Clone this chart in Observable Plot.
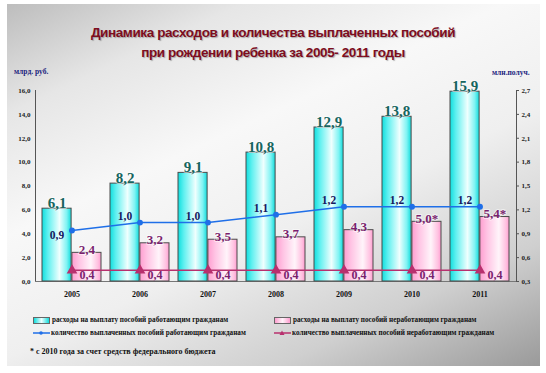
<!DOCTYPE html>
<html>
<head>
<meta charset="utf-8">
<script src="https://cdn.jsdelivr.net/npm/d3@7"></script>
<script src="https://cdn.jsdelivr.net/npm/@observablehq/plot@0.6"></script>
<style>
  html, body { margin: 0; padding: 0; background: #fff; }
  #wrap { position: relative; width: 546px; height: 373px; overflow: hidden; background: #fff; }
  #bg { position: absolute; left: 7px; top: 4px; width: 533px; height: 362px;
        background: linear-gradient(155deg, #bdbdbd 0%, #e6e6e6 18%, #f8f8f8 38%, #efefef 58%, #cfcfcf 80%, #9a9a9a 100%); }
  .title { position: absolute; left: 0; width: 546px; text-align: center; font-family: "Liberation Sans", Arial, sans-serif;
           font-weight: bold; font-size: 13.5px; letter-spacing: -0.4px; color: #7d0d1e; text-shadow: 1px 1px 1px rgba(90,90,90,0.45); }
  .axlab { position: absolute; font-family: "Liberation Serif", serif; font-weight: bold; font-size: 7.5px; color: #1a237e; }
  #chart { position: absolute; left: 0; top: 62px; }
  .leg { position: absolute; font-family: "Liberation Serif", serif; font-weight: bold; font-size: 7.2px; color: #111; white-space: nowrap; display: flex; align-items: center; }
  .sw { display: inline-block; width: 15px; height: 5px; border: 1px solid #666; margin-right: 2px; }
</style>
</head>
<body>
<div id="wrap">
  <div id="bg"></div>
  <div class="title" style="top:25px">Динамика расходов и количества выплаченных пособий</div>
  <div class="title" style="top:45px">при рождении ребенка за 2005- 2011 годы</div>
  <div class="axlab" id="leftLab" style="left:14px; top:67px"></div>
  <div class="axlab" id="rightLab" style="left:492px; top:68px"></div>
  <div id="chart"></div>
  <div id="legend"></div>
  <div class="leg" id="foot" style="left:30px; top:347px; font-size:8px"></div>
</div>
<script>
// ---- data ----
const years = ["2005", "2006", "2007", "2008", "2009", "2010", "2011"];
const workingSpend = [6.1, 8.2, 9.1, 10.8, 12.9, 13.8, 15.9];      // млрд. руб.
const nonWorkingSpend = [2.4, 3.2, 3.5, 3.7, 4.3, 5.0, 5.4];       // млрд. руб.
const workingCount = [0.94, 1.04, 1.04, 1.14, 1.24, 1.24, 1.24];   // млн.
const nonWorkingCount = [0.44, 0.44, 0.44, 0.44, 0.44, 0.44, 0.44];// млн.
const nonWorkingNotes = ["", "", "", "", "", "*", "*"];
const leftTicks = [0, 2, 4, 6, 8, 10, 12, 14, 16];
const rightTicks = [0.3, 0.6, 0.9, 1.2, 1.5, 1.8, 2.1, 2.4, 2.7];
const leftLabel = "млрд. руб.";
const rightLabel = "млн.получ.";
const seriesNames = [
  "расходы на выплату пособий работающим гражданам",
  "расходы на выплату пособий неработающим гражданам",
  "количество выплаченных пособий работающим гражданам",
  "количество выплаченных пособий неработающим гражданам"
];
const footnote = "* с 2010 года за счет средств федерального бюджета";

// ---- helpers ----
const ru = d3.formatLocale({decimal: ",", thousands: " ", grouping: [3], currency: ["", ""]});
const fmt1 = ru.format(".1f");
const rMin = rightTicks[0], rMax = rightTicks[rightTicks.length - 1];
const lMax = leftTicks[leftTicks.length - 1];
const toLeft = r => (r - rMin) / (rMax - rMin) * lMax;
const fromLeft = l => rMin + l / lMax * (rMax - rMin);

const rows = years.map((year, i) => ({
  year,
  work: workingSpend[i],
  non: nonWorkingSpend[i],
  workC: workingCount[i],
  nonC: nonWorkingCount[i],
  note: nonWorkingNotes[i]
}));

const W = 546, ML = 35, MR = 30;
const pInner = 0.13, pOuter = 0.065;
const step = (W - ML - MR) / (years.length - pInner + 2 * pOuter);
const half = step * (1 - pInner) / 2;
const q = half / 2;

const cBlue = "#1f6fe8", cRed = "#b8306e";
const serif = "Liberation Serif, serif";

const chart = Plot.plot({
  width: W, height: 248,
  marginLeft: ML, marginRight: MR, marginTop: 28, marginBottom: 29,
  style: {background: "transparent", overflow: "visible"},
  x: {type: "band", domain: years, paddingInner: pInner, paddingOuter: pOuter, axis: null, label: null},
  y: {domain: [0, lMax], axis: null, label: null},
  marks: [
    Plot.frame({anchor: "left", stroke: "#555"}),
    Plot.frame({anchor: "right", stroke: "#555"}),
    Plot.ruleY([0], {stroke: "#777"}),
    Plot.axisY({anchor: "left", ticks: leftTicks, tickFormat: fmt1, tickSize: 0, tickPadding: 5, label: null,
      fontSize: 7, fontFamily: serif, fontWeight: "bold", fill: "#222"}),
    Plot.axisY({anchor: "right", ticks: rightTicks.map(toLeft), tickFormat: v => fmt1(fromLeft(v)), tickSize: 2, tickPadding: 3, label: null,
      fontSize: 7, fontFamily: serif, fontWeight: "bold", fill: "#222", stroke: "#555"}),
    Plot.axisX({anchor: "bottom", tickSize: 0, tickPadding: 10, label: null, fontSize: 8, fontFamily: serif, fontWeight: "bold", fill: "#111"}),
    Plot.barY(rows, {x: "year", y: "work", fill: "url(#gCyan)", stroke: "#4a4a4a", strokeWidth: 1, insetRight: half}),
    Plot.barY(rows, {x: "year", y: "non", fill: "url(#gPink)", stroke: "#4a4a4a", strokeWidth: 1, insetLeft: half}),
    Plot.lineY(rows, {x: "year", y: d => toLeft(d.workC), stroke: cBlue, strokeWidth: 1.5}),
    Plot.dot(rows, {x: "year", y: d => toLeft(d.workC), r: 2.2, fill: cBlue, stroke: cBlue}),
    Plot.lineY(rows, {x: "year", y: d => toLeft(d.nonC), stroke: cRed, strokeWidth: 1.5}),
    Plot.dot(rows, {x: "year", y: d => toLeft(d.nonC), symbol: "triangle", r: 3, fill: cRed, stroke: cRed}),
    // value labels
    Plot.text(rows, {x: "year", y: "work", text: d => fmt1(d.work), dx: -q, dy: -1, lineAnchor: "bottom",
      fontSize: 15, fontFamily: serif, fontWeight: "bold", fill: "#16655f", stroke: "white", strokeWidth: 2, strokeOpacity: 0.5}),
    Plot.text(rows, {x: "year", y: "non", text: d => fmt1(d.non) + d.note, dx: q, dy: 1, lineAnchor: "bottom",
      fontSize: 13, fontFamily: serif, fontWeight: "bold", fill: "#7a1f6e", stroke: "white", strokeWidth: 2, strokeOpacity: 0.5}),
    Plot.text(rows.slice(0, 1), {x: "year", y: d => toLeft(d.workC), text: d => fmt1(d.workC), dx: -q, dy: 5,
      fontSize: 11.5, fontFamily: serif, fontWeight: "bold", fill: "#15185e"}),
    Plot.text(rows.slice(1), {x: "year", y: d => toLeft(d.workC), text: d => fmt1(d.workC), dx: -q, dy: -6,
      fontSize: 11.5, fontFamily: serif, fontWeight: "bold", fill: "#15185e"}),
    Plot.text(rows, {x: "year", y: d => toLeft(d.nonC), text: d => fmt1(d.nonC), dx: q, dy: 5,
      fontSize: 12, fontFamily: serif, fontWeight: "bold", fill: "#7a1f6e"})
  ]
});

// gradients for bars
const ns = "http://www.w3.org/2000/svg";
const defs = document.createElementNS(ns, "defs");
function grad(id, stops) {
  const g = document.createElementNS(ns, "linearGradient");
  g.setAttribute("id", id);
  g.setAttribute("x1", "0"); g.setAttribute("x2", "1"); g.setAttribute("y1", "0"); g.setAttribute("y2", "0");
  stops.forEach(([o, c]) => {
    const s = document.createElementNS(ns, "stop");
    s.setAttribute("offset", o); s.setAttribute("stop-color", c);
    g.appendChild(s);
  });
  defs.appendChild(g);
}
grad("gCyan", [["0", "#10dede"], ["0.2", "#5ff0f0"], ["0.6", "#effffe"], ["0.85", "#7ff3f3"], ["1", "#10dcdc"]]);
grad("gPink", [["0", "#ff9ed0"], ["0.25", "#ffc4e4"], ["0.65", "#fff4fa"], ["0.9", "#ffc0e0"], ["1", "#ff9ccf"]]);
chart.insertBefore(defs, chart.firstChild);
document.getElementById("chart").appendChild(chart);

document.getElementById("leftLab").textContent = leftLabel;
document.getElementById("rightLab").textContent = rightLabel;
document.getElementById("foot").textContent = footnote;

// legend
const leg = document.getElementById("legend");
const items = [
  {x: 33, y: 316, kind: "box", fill: "linear-gradient(90deg,#10dede,#effffe,#10dcdc)"},
  {x: 274, y: 316, kind: "box", fill: "linear-gradient(90deg,#ff9ed0,#fff4fa,#ff9ccf)"},
  {x: 33, y: 329, kind: "line", color: cBlue, marker: "circle"},
  {x: 274, y: 329, kind: "line", color: cRed, marker: "triangle"}
];
items.forEach((it, i) => {
  const d = document.createElement("div");
  d.className = "leg";
  d.style.left = it.x + "px";
  d.style.top = it.y + "px";
  if (it.kind === "box") {
    const s = document.createElement("span");
    s.className = "sw";
    s.style.background = it.fill;
    d.appendChild(s);
  } else {
    const m = it.marker === "circle"
      ? `<circle cx="8" cy="4" r="1.8" fill="${it.color}"/>`
      : `<path d="M8,1.5 L10.5,6 L5.5,6 Z" fill="${it.color}"/>`;
    d.insertAdjacentHTML("beforeend",
      `<svg width="17" height="8" style="margin-right:1px"><line x1="0" y1="4" x2="17" y2="4" stroke="${it.color}" stroke-width="1.5"/>${m}</svg>`);
  }
  const t = document.createElement("span");
  t.textContent = seriesNames[i];
  d.appendChild(t);
  leg.appendChild(d);
});
</script>
</body>
</html>
